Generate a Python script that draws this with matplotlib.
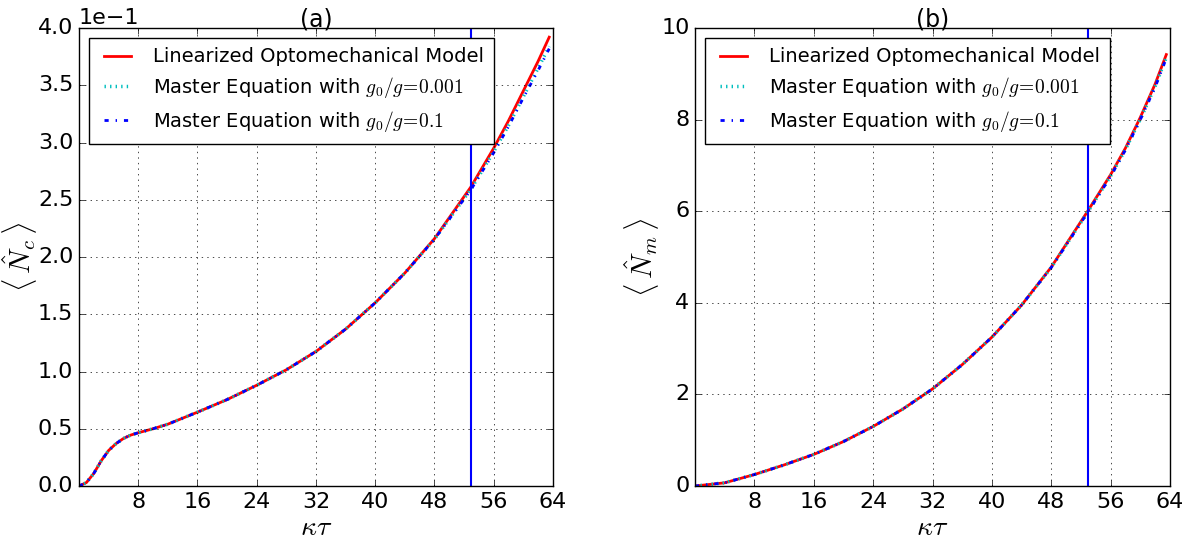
import matplotlib
matplotlib.use("Agg")
import matplotlib.pyplot as plt

# photon number <N_c> (panel a)
t_a = [0, 1, 2, 3, 4, 5, 6, 7, 8, 10, 12, 16, 20, 24, 28, 32, 36, 40, 44, 48,
       52.9, 56, 58, 60, 62, 63.5]
nc_lin = [0.0, 0.003, 0.011, 0.022, 0.031, 0.037, 0.0415, 0.0445, 0.0465, 0.050,
          0.054, 0.0645, 0.0755, 0.088, 0.1015, 0.1175, 0.137, 0.160, 0.186,
          0.216, 0.261, 0.295, 0.319, 0.345, 0.371, 0.392]
nc_me1 = [0.0, 0.003, 0.011, 0.022, 0.031, 0.037, 0.0415, 0.0445, 0.0465, 0.050,
          0.054, 0.0645, 0.0755, 0.088, 0.1015, 0.1175, 0.137, 0.160, 0.186,
          0.2155, 0.259, 0.292, 0.315, 0.340, 0.365, 0.384]
nc_me2 = [0.0, 0.003, 0.011, 0.022, 0.031, 0.037, 0.0415, 0.0445, 0.0465, 0.050,
          0.054, 0.0645, 0.0755, 0.088, 0.1015, 0.1175, 0.137, 0.160, 0.186,
          0.2155, 0.2585, 0.291, 0.314, 0.339, 0.363, 0.382]

# phonon number <N_m> (panel b)
t_b = [0, 4, 8, 12, 16, 20, 24, 28, 32, 36, 40, 44, 48, 52.9, 56, 58, 60, 62, 63.5]
nm_lin = [0.0, 0.07, 0.25, 0.46, 0.69, 0.97, 1.30, 1.68, 2.12, 2.65, 3.25,
          3.95, 4.78, 6.0, 6.8, 7.38, 8.05, 8.78, 9.42]
nm_me1 = [0.0, 0.07, 0.25, 0.46, 0.69, 0.97, 1.30, 1.68, 2.12, 2.65, 3.25,
          3.95, 4.77, 5.98, 6.77, 7.35, 8.01, 8.73, 9.36]
nm_me2 = [0.0, 0.07, 0.25, 0.46, 0.69, 0.97, 1.30, 1.68, 2.12, 2.65, 3.25,
          3.95, 4.77, 5.97, 6.76, 7.34, 8.00, 8.71, 9.34]

t_mark = 52.9
labels = ["Linearized Optomechanical Model",
          r"Master Equation with $g_0/g\!=\!0.001$",
          r"Master Equation with $g_0/g\!=\!0.1$"]

plt.style.use("classic")
plt.rcParams["mathtext.fontset"] = "cm"
plt.rcParams["figure.facecolor"] = "white"
plt.rcParams["savefig.facecolor"] = "white"

fig = plt.figure(figsize=(12.02, 5.42), dpi=100)
ax1 = fig.add_axes([0.0657, 0.1033, 0.3943, 0.845])
ax2 = fig.add_axes([0.5782, 0.1033, 0.3952, 0.845])

def draw(ax, t, y_lin, y_me1, y_me2, title, ylabel, ylab_x):
    ax.plot(t, y_lin, color="r", lw=2, ls="-", label=labels[0])
    ax.plot(t, y_me1, color="c", lw=2.5, ls=":", label=labels[1])
    ax.plot(t, y_me2, color="b", lw=2, ls="-.", label=labels[2])
    ax.axvline(t_mark, color="b", lw=1.5)
    ax.set_xlim(0, 64)
    ax.set_xticks(range(8, 65, 8))
    ax.grid(True, color="k", ls=":", lw=0.5)
    ax.tick_params(labelsize=16, direction="in")
    ax.set_xlabel(r"$\kappa\tau$", fontsize=20)
    ax.xaxis.set_label_coords(0.5, -0.06)
    ax.set_ylabel(ylabel, fontsize=21)
    ax.yaxis.set_label_coords(ylab_x, 0.5)
    ax.set_title(title, fontsize=17, pad=1)
    ax.legend(loc="upper left", fontsize=14, fancybox=False, frameon=True,
              handlelength=2, borderpad=0.5, labelspacing=0.45)

draw(ax1, t_a, nc_lin, nc_me1, nc_me2, "(a)",
     r"$\langle\,\hat{N}_c\,\rangle$", -0.085)
ax1.set_ylim(0, 0.4)
ax1.set_yticks([i * 0.05 for i in range(9)])
ax1.ticklabel_format(axis="y", style="sci", scilimits=(0, 0))
ax1.yaxis.get_offset_text().set_fontsize(16)

draw(ax2, t_b, nm_lin, nm_me1, nm_me2, "(b)",
     r"$\langle\,\hat{N}_m\,\rangle$", -0.072)
ax2.set_ylim(0, 10)
ax2.set_yticks(range(0, 11, 2))

fig.savefig("out.png", dpi=100)
